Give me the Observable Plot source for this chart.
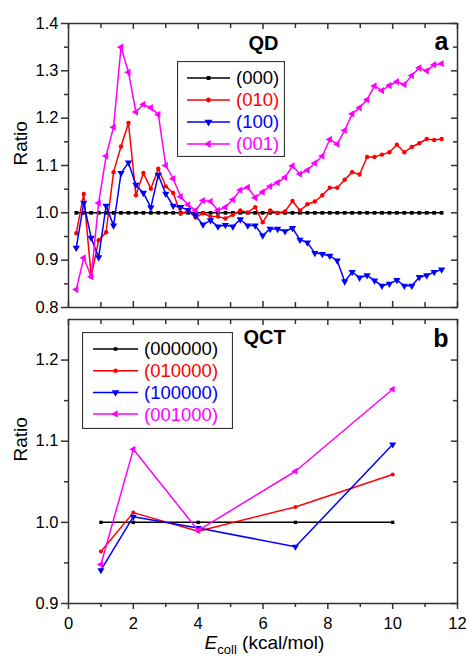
<!DOCTYPE html>
<html>
<head>
<meta charset="utf-8">
<script src="https://cdn.jsdelivr.net/npm/d3@7"></script>
<script src="https://cdn.jsdelivr.net/npm/@observablehq/plot@0.6"></script>
<style>
  body { margin: 0; background: #fff; font-family: "Liberation Sans", Arial, sans-serif; }
  #wrap { position: relative; width: 466px; height: 657px; background: #fff; }
  #wrap svg { display: block; }
  .legend { position: absolute; }
  #xlabel { position: absolute; left: 70px; width: 389px; top: 632px; height: 25px; text-align: center;
            font-size: 19px; line-height: 22px; color: #000; white-space: nowrap; }
  #xlabel sub { font-size: 13px; vertical-align: -5px; line-height: 0; }
</style>
</head>
<body>
<div id="wrap"></div>
<script>
// ---------- data: panel a (QD) ----------
const xQD = [0.24,0.47,0.70,0.93,1.16,1.39,1.62,1.85,2.08,2.31,2.54,2.77,3.00,3.23,3.46,3.69,3.92,4.15,4.38,4.61,
             4.84,5.07,5.30,5.53,5.76,5.99,6.22,6.45,6.68,6.91,7.14,7.37,7.60,7.83,8.06,8.29,8.52,8.75,8.98,9.21,
             9.44,9.67,9.90,10.13,10.36,10.59,10.82,11.05,11.28,11.51];
const qd000 = [1,1,1,1,1,1,1,1,1,1, 1,1,1,1,1,1,1,1,1,1, 1,1,1,1,1,1,1,1,1,1, 1,1,1,1,1,1,1,1,1,1, 1,1,1,1,1,1,1,1,1,1];
const qd010 = [0.957,1.040,0.866,0.942,0.959,1.086,1.140,1.190,1.037,1.084,
               1.051,1.093,1.056,1.042,0.998,1.004,0.990,0.999,0.992,0.992,
               0.988,0.996,1.005,1.001,1.012,0.980,1.005,1.000,1.003,1.025,
               1.005,1.018,1.024,1.037,1.053,1.053,1.070,1.086,1.081,1.118,
               1.118,1.123,1.128,1.144,1.128,1.139,1.147,1.156,1.154,1.156];
const qd100 = [0.926,1.021,0.947,0.906,1.015,0.973,1.084,1.106,1.059,1.042,
               1.011,1.080,1.040,1.015,1.012,1.006,0.994,0.975,0.984,0.971,
               0.974,0.971,0.986,0.973,0.973,0.952,0.966,0.966,0.961,0.968,
               0.943,0.937,0.915,0.913,0.909,0.899,0.855,0.875,0.863,0.868,
               0.857,0.846,0.850,0.858,0.846,0.846,0.864,0.868,0.875,0.880];
const qd001 = [0.838,0.905,0.865,1.021,1.120,1.181,1.350,1.297,1.213,1.229,
               1.222,1.208,1.100,1.072,1.034,1.017,1.005,1.026,1.024,1.005,
               1.012,1.028,1.048,1.054,1.032,1.044,1.056,1.064,1.075,1.099,
               1.082,1.090,1.105,1.120,1.155,1.145,1.174,1.209,1.222,1.239,
               1.268,1.258,1.269,1.277,1.271,1.290,1.306,1.300,1.313,1.315];
const namesQD = ["(000)", "(010)", "(100)", "(001)"];

// ---------- data: panel b (QCT) ----------
const xQCT = [1, 2, 4, 7, 10];
const qct000 = [1.000, 1.000, 1.000, 1.000, 1.000];
const qct010 = [0.964, 1.012, 0.989, 1.019, 1.059];
const qct100 = [0.941, 1.007, 0.993, 0.970, 1.096];
const qct001 = [0.948, 1.090, 0.990, 1.063, 1.164];
const namesQCT = ["(000000)", "(010000)", "(100000)", "(001000)"];

// ---------- ticks ----------
const xMajorTicks = [0, 2, 4, 6, 8, 10, 12];
const xMinorTicks = [1, 3, 5, 7, 9, 11];
const yMajorA = [0.8, 0.9, 1.0, 1.1, 1.2, 1.3, 1.4];
const yMinorA = [0.85, 0.95, 1.05, 1.15, 1.25, 1.35];
const yMajorB = [0.9, 1.0, 1.1, 1.2];
const yMinorB = [0.95, 1.05, 1.15];

// ---------- styles ----------
const colors = ["#000000", "#ff0000", "#0000ff", "#ff00ff"];
const symbols = ["square", "circle", "triangle", "triangle"];
const rotations = [0, 0, 180, -90];

const W = 466, ML = 68, MR = 9;
const FW = W - ML - MR;
const axisColor = "#333";
const font = "Liberation Sans, Arial, sans-serif";

function seriesMarks(xs, ys, i, rs) {
  const data = xs.map((x, k) => ({x, y: ys[k]}));
  return [
    Plot.line(data, {x: "x", y: "y", stroke: colors[i], strokeWidth: 1.5}),
    Plot.dot(data, {x: "x", y: "y", symbol: symbols[i], r: rs[i], fill: colors[i], stroke: "none", rotate: rotations[i]})
  ];
}

function frameTicks(FH, yMaj, yMin, bottomOut) {
  const m = [
    Plot.tickY(yMaj, {insetLeft: -7, insetRight: FW, stroke: axisColor, strokeWidth: 1.5}),
    Plot.tickY(yMin, {insetLeft: -4, insetRight: FW, stroke: axisColor, strokeWidth: 1.5}),
    Plot.tickY(yMaj, {insetLeft: FW - 6, stroke: axisColor, strokeWidth: 1.5}),
    Plot.tickY(yMin, {insetLeft: FW - 4, stroke: axisColor, strokeWidth: 1.5}),
    Plot.tickX(xMajorTicks, {insetBottom: FH - 6, stroke: axisColor, strokeWidth: 1.5}),
    Plot.tickX(xMinorTicks, {insetBottom: FH - 5, stroke: axisColor, strokeWidth: 1.5})
  ];
  if (bottomOut) {
    m.push(Plot.tickX(xMajorTicks, {insetTop: FH, insetBottom: -6, stroke: axisColor, strokeWidth: 1.5}));
    m.push(Plot.tickX(xMinorTicks, {insetTop: FH, insetBottom: -4, stroke: axisColor, strokeWidth: 1.5}));
  } else {
    m.push(Plot.tickX(xMajorTicks, {insetTop: FH - 6, stroke: axisColor, strokeWidth: 1.5}));
    m.push(Plot.tickX(xMinorTicks, {insetTop: FH - 5, stroke: axisColor, strokeWidth: 1.5}));
  }
  return m;
}

// ---------- panel a ----------
const HA = 312, MTA = 23, MBA = 5;
const FHA = HA - MTA - MBA;
const rA = [2.1, 2.2, 2.7, 2.7];
const plotA = Plot.plot({
  width: W, height: HA,
  marginTop: MTA, marginBottom: MBA, marginLeft: ML, marginRight: MR,
  style: {fontFamily: font, fontSize: "16px", color: "#000", background: "#fff", overflow: "visible"},
  x: {domain: [0, 12], axis: null},
  y: {domain: [0.8, 1.4], axis: null},
  marks: [
    ...frameTicks(FHA, yMajorA, yMinorA, false),
    Plot.axisY(yMajorA, {anchor: "left", tickSize: 0, tickPadding: 10, tickFormat: d3.format(".1f"), label: null, fontSize: 16.5}),
    Plot.text(["Ratio"], {frameAnchor: "left", dx: -48, rotate: -90, fontSize: 19, fill: "#000"}),
    ...seriesMarks(xQD, qd000, 0, rA),
    ...seriesMarks(xQD, qd010, 1, rA),
    ...seriesMarks(xQD, qd100, 2, rA),
    ...seriesMarks(xQD, qd001, 3, rA),
    Plot.text(["QD"], {frameAnchor: "top-left", dx: 180, dy: 12, textAnchor: "start", lineAnchor: "top", fontSize: 20, fontWeight: "bold", fill: "#000"}),
    Plot.text(["a"], {frameAnchor: "top-right", dx: -9, dy: 9, textAnchor: "end", lineAnchor: "top", fontSize: 25, fontWeight: "bold", fill: "#000"}),
    Plot.frame({stroke: axisColor, strokeWidth: 1.5})
  ]
});

// ---------- panel b ----------
const HB = 323, MTB = 7, MBB = 32;
const FHB = HB - MTB - MBB;
const rB = [1.9, 2.0, 2.6, 2.6];
const plotB = Plot.plot({
  width: W, height: HB,
  marginTop: MTB, marginBottom: MBB, marginLeft: ML, marginRight: MR,
  style: {fontFamily: font, fontSize: "16px", color: "#000", background: "#fff", overflow: "visible"},
  x: {domain: [0, 12], axis: null},
  y: {domain: [0.9, 1.25], axis: null},
  marks: [
    ...frameTicks(FHB, yMajorB, yMinorB, true),
    Plot.axisY(yMajorB, {anchor: "left", tickSize: 0, tickPadding: 10, tickFormat: d3.format(".1f"), label: null, fontSize: 16.5}),
    Plot.axisX(xMajorTicks, {anchor: "bottom", tickSize: 0, tickPadding: 14, tickFormat: d3.format("d"), label: null, fontSize: 16.5}),
    Plot.text(["Ratio"], {frameAnchor: "left", dx: -48, rotate: -90, fontSize: 19, fill: "#000"}),
    ...seriesMarks(xQCT, qct000, 0, rB),
    ...seriesMarks(xQCT, qct010, 1, rB),
    ...seriesMarks(xQCT, qct100, 2, rB),
    ...seriesMarks(xQCT, qct001, 3, rB),
    Plot.text(["QCT"], {frameAnchor: "top-left", dx: 175, dy: 10, textAnchor: "start", lineAnchor: "top", fontSize: 20, fontWeight: "bold", fill: "#000"}),
    Plot.text(["b"], {frameAnchor: "top-right", dx: -9, dy: 10, textAnchor: "end", lineAnchor: "top", fontSize: 25, fontWeight: "bold", fill: "#000"}),
    Plot.frame({stroke: axisColor, strokeWidth: 1.5})
  ]
});

const wrap = document.getElementById("wrap");
wrap.appendChild(plotA);
wrap.appendChild(plotB);

// ---------- legends ----------
function legend(names, opts) {
  const svg = d3.create("svg")
    .attr("class", "legend")
    .attr("width", opts.w).attr("height", opts.h)
    .style("left", opts.left + "px").style("top", opts.top + "px");
  svg.append("rect").attr("x", 0.5).attr("y", 0.5).attr("width", opts.w - 1).attr("height", opts.h - 1)
    .attr("fill", "#fff").attr("stroke", axisColor).attr("stroke-width", 1.2);
  const symMap = {square: d3.symbolSquare, circle: d3.symbolCircle, triangle: d3.symbolTriangle};
  names.forEach((n, i) => {
    const y = opts.y0 + i * opts.dy;
    svg.append("line").attr("x1", opts.lx1).attr("x2", opts.lx2).attr("y1", y).attr("y2", y)
      .attr("stroke", colors[i]).attr("stroke-width", 1.5);
    svg.append("path")
      .attr("d", d3.symbol(symMap[symbols[i]], Math.PI * opts.r[i] * opts.r[i])())
      .attr("transform", `translate(${(opts.lx1 + opts.lx2) / 2},${y}) rotate(${rotations[i]})`)
      .attr("fill", colors[i]);
    svg.append("text").attr("x", opts.tx).attr("y", y).attr("dy", "0.35em")
      .attr("fill", colors[i]).attr("font-size", 18.5).attr("font-family", font).text(n);
  });
  wrap.appendChild(svg.node());
}
legend(namesQD, {left: 177, top: 61, w: 108, h: 96, y0: 17, dy: 22, lx1: 10, lx2: 53, tx: 59, r: [2.2, 2.4, 2.9, 2.9]});
legend(namesQCT, {left: 82, top: 332, w: 151, h: 97, y0: 17, dy: 21.7, lx1: 11, lx2: 56, tx: 62, r: [2.0, 2.2, 2.8, 2.8]});

// ---------- x axis title ----------
const xl = document.createElement("div");
xl.id = "xlabel";
xl.innerHTML = "<i>E</i><sub>coll</sub> (kcal/mol)";
wrap.appendChild(xl);
</script>
</body>
</html>
